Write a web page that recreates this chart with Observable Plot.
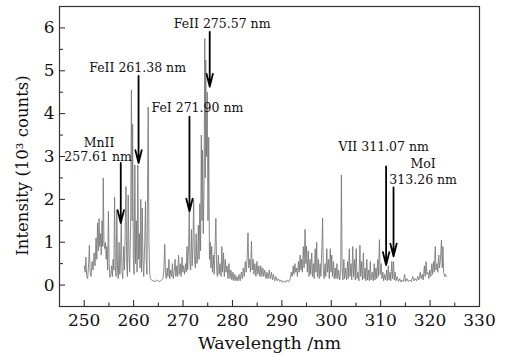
<!DOCTYPE html>
<html>
<head>
<meta charset="utf-8">
<script src="https://cdn.jsdelivr.net/npm/d3@7"></script>
<script src="https://cdn.jsdelivr.net/npm/@observablehq/plot@0.6"></script>
<style>
  html, body { margin: 0; padding: 0; background: #fff; }
  #chart svg { display: block; }
</style>
</head>
<body>
<div id="chart"></div>
<script>
// Spectrum (wavelength in nm, intensity in 10^3 counts)
const wavelength = [
  250.0,250.2,250.35,250.5,250.7,250.9,251.05,251.2,251.4,251.6,251.8,252.0,252.2,252.4,252.55,252.7,252.85,253.0,253.15,253.3,
  253.45,253.6,253.75,253.85,254.0,254.15,254.3,254.45,254.6,254.75,254.9,255.05,255.2,255.4,255.55,255.7,255.85,256.0,256.15,256.3,
  256.45,256.6,256.75,256.9,257.05,257.2,257.35,257.5,257.65,257.8,258.0,258.15,258.3,258.45,258.6,258.75,258.9,259.05,259.2,259.4,
  259.55,259.7,259.8,259.95,260.1,260.25,260.4,260.55,260.7,260.85,261.0,261.15,261.3,261.45,261.6,261.75,261.9,262.05,262.25,262.4,
  262.55,262.7,262.85,262.95,263.1,263.25,263.4,263.6,263.9,264.3,264.7,265.1,265.5,265.9,266.1,266.3,266.45,266.6,266.8,266.95,
  267.15,267.3,267.5,267.7,267.85,268.0,268.2,268.4,268.55,268.75,268.9,269.1,269.25,269.45,269.6,269.8,269.95,270.1,270.3,270.5,
  270.65,270.8,270.95,271.15,271.25,271.4,271.55,271.7,271.85,272.0,272.15,272.3,272.5,272.65,272.8,272.95,273.1,273.25,273.4,273.55,
  273.7,273.85,273.95,274.1,274.25,274.4,274.5,274.6,274.75,274.9,275.05,275.2,275.35,275.5,275.65,275.8,275.95,276.15,276.3,276.5,
  276.65,276.8,276.95,277.15,277.3,277.5,277.7,277.85,278.0,278.2,278.35,278.55,278.7,278.9,279.1,279.3,279.5,279.7,279.9,280.1,
  280.3,280.5,280.7,280.9,281.1,281.35,281.55,281.8,282.0,282.2,282.4,282.6,282.8,283.0,283.15,283.3,283.5,283.65,283.85,284.0,
  284.2,284.35,284.55,284.75,284.95,285.15,285.35,285.55,285.75,285.95,286.15,286.35,286.55,286.8,287.0,287.2,287.45,287.65,287.9,288.1,
  288.3,288.55,288.8,289.0,289.3,289.6,289.9,290.2,290.5,290.8,291.1,291.4,291.7,291.9,292.1,292.3,292.45,292.65,292.8,293.0,
  293.15,293.35,293.5,293.7,293.85,294.0,294.15,294.35,294.5,294.7,294.85,295.0,295.15,295.35,295.5,295.7,295.85,296.05,296.2,296.4,
  296.55,296.75,296.9,297.05,297.2,297.4,297.55,297.75,297.9,298.1,298.25,298.4,298.55,298.75,298.9,299.1,299.25,299.45,299.6,299.8,
  299.95,300.1,300.25,300.45,300.6,300.8,300.95,301.15,301.3,301.5,301.7,301.9,302.05,302.2,302.35,302.55,302.7,302.9,303.1,303.3,
  303.45,303.65,303.8,304.0,304.15,304.35,304.5,304.7,304.85,305.05,305.2,305.4,305.6,305.8,305.95,306.15,306.3,306.5,306.65,306.85,
  307.0,307.2,307.35,307.55,307.7,307.9,308.05,308.3,308.5,308.7,308.85,309.05,309.2,309.4,309.55,309.75,309.9,310.1,310.25,310.45,
  310.6,310.8,311.0,311.2,311.35,311.55,311.7,311.9,312.05,312.25,312.4,312.6,312.75,312.95,313.1,313.35,313.6,313.85,314.1,314.35,
  314.6,314.85,315.05,315.3,315.6,315.9,316.2,316.5,316.75,317.0,317.25,317.5,317.75,318.0,318.2,318.4,318.6,318.85,319.0,319.2,
  319.35,319.55,319.75,319.95,320.15,320.35,320.5,320.7,320.85,321.05,321.2,321.4,321.55,321.75,321.9,322.1,322.3,322.45,322.6,322.75,
  322.95,323.1,323.3
];
const intensity = [
  0.45,0.3,0.65,0.2,0.15,0.5,0.93,0.3,0.2,0.55,0.35,0.75,0.45,1.1,0.6,1.45,0.8,1.55,0.9,1.2,
  0.7,1.5,0.9,2.5,1.0,0.85,1.0,0.6,0.9,0.35,1.72,0.5,0.18,0.25,0.45,0.2,0.6,0.35,2.05,0.4,
  0.2,1.75,0.35,0.15,1.0,0.25,0.55,1.5,0.3,0.15,0.9,0.35,1.3,2.3,0.5,0.2,2.1,0.7,0.3,1.4,
  4.55,1.5,3.75,0.6,0.25,2.8,0.5,1.5,0.3,2.8,0.6,1.2,0.4,2.0,0.3,1.8,0.5,0.2,1.0,1.95,
  0.6,0.25,2.75,4.15,1.0,0.3,0.15,0.12,0.1,0.08,0.12,0.08,0.1,0.15,0.3,0.95,0.3,0.15,0.4,0.2,
  0.6,0.15,0.35,0.2,0.5,0.15,0.3,0.6,0.2,0.45,0.2,0.7,0.25,0.5,0.2,0.65,0.3,0.45,0.25,0.5,
  0.3,0.9,0.35,1.0,1.7,0.5,0.35,1.3,0.45,0.9,2.0,0.6,0.4,1.2,0.5,0.6,1.4,0.6,1.9,0.8,
  3.5,1.5,3.15,1.2,2.2,5.75,2.5,5.25,3.0,4.5,1.5,3.45,0.6,1.0,0.4,0.9,0.3,0.7,0.25,1.0,
  1.56,0.4,0.2,0.7,0.25,0.5,0.2,0.9,0.3,0.75,0.2,0.6,0.3,0.45,0.15,0.5,0.15,0.35,0.12,0.3,
  0.1,0.25,0.1,0.2,0.1,0.25,0.1,0.3,0.15,0.4,0.2,0.55,0.3,0.7,1.22,0.4,0.6,0.3,1.02,0.35,
  0.6,0.25,0.5,0.2,0.55,0.25,0.45,0.2,0.45,0.2,0.4,0.2,0.35,0.15,0.3,0.15,0.35,0.15,0.3,0.12,
  0.25,0.1,0.2,0.1,0.15,0.08,0.12,0.06,0.1,0.06,0.12,0.08,0.15,0.3,0.2,0.45,0.25,0.5,0.3,0.4,
  0.2,0.55,0.3,0.7,0.35,0.6,0.3,0.9,0.4,1.3,0.5,0.9,0.3,0.8,0.2,0.6,0.25,0.75,0.2,0.5,
  0.15,0.85,0.3,1.0,0.2,0.6,0.15,0.5,0.2,0.9,1.56,0.3,0.15,0.5,0.2,0.85,0.3,0.6,0.15,0.85,
  0.3,0.7,0.2,0.55,0.15,0.4,0.15,0.5,0.15,0.35,0.12,0.3,2.57,0.4,0.12,0.6,0.15,0.4,0.12,0.55,
  0.15,0.85,0.2,0.5,0.12,0.9,0.2,0.6,0.12,0.85,0.15,0.3,0.1,0.93,0.2,0.55,0.12,0.75,0.15,0.4,
  0.1,0.6,0.12,0.35,0.1,0.55,0.12,0.3,0.1,0.5,0.12,0.4,0.15,0.6,0.2,1.06,0.25,0.5,0.15,0.3,
  0.1,0.25,0.12,0.35,0.1,0.45,0.12,0.3,0.1,0.55,0.15,0.55,0.12,0.3,0.1,0.2,0.08,0.15,0.07,0.12,
  0.08,0.25,0.08,0.15,0.08,0.12,0.08,0.2,0.1,0.15,0.1,0.2,0.12,0.3,0.15,0.25,0.12,0.45,0.2,0.55,
  0.25,0.3,0.15,0.35,0.2,0.5,0.25,0.55,0.3,0.9,0.35,0.5,0.3,0.7,0.4,0.6,1.05,0.4,0.9,0.3,
  0.2,0.25,0.2
];

// Line annotations
const arrowX   = [257.4, 261.0, 271.3, 275.4, 311.1, 312.6];
const arrowTop = [2.85, 4.88, 3.93, 5.91, 2.77, 2.28];
const arrowTip = [1.45, 2.85, 1.72, 4.63, 0.47, 0.67];
const labelText = ["MnII", "257.61 nm", "FeII 261.38 nm", "FeI 271.90 nm", "FeII 275.57 nm", "VII 311.07 nm", "MoI", "313.26 nm"];
const labelX = [253.0, 252.8, 260.8, 272.9, 277.9, 310.6, 318.6, 318.6];
const labelY = [3.31, 2.99, 5.06, 4.13, 6.1, 3.23, 2.83, 2.46];

// Axis texts and ticks
const xLabel = "Wavelength /nm";
const yLabel = "Intensity (10³ counts)";
const xTicks = [250, 260, 270, 280, 290, 300, 310, 320, 330];
const xMinor = [255, 265, 275, 285, 295, 305, 315, 325];
const yTicks = [0, 1, 2, 3, 4, 5, 6];
const yMinor = [0.5, 1.5, 2.5, 3.5, 4.5, 5.5];

const spectrum = wavelength.map((x, i) => ({x, y: intensity[i]}));
const arrows = arrowX.map((x, i) => ({x, y1: arrowTop[i], y2: arrowTip[i]}));
const labels = labelText.map((t, i) => ({t, x: labelX[i], y: labelY[i]}));

const chart = Plot.plot({
  width: 514,
  height: 356,
  marginLeft: 59,
  marginRight: 35,
  marginTop: 6,
  marginBottom: 50,
  style: {fontFamily: "'DejaVu Serif', serif", fontSize: "13px", color: "#111", background: "#fff"},
  x: {domain: [245, 330]},
  y: {domain: [-0.5, 6.5]},
  marks: [
    Plot.line(spectrum, {x: "x", y: "y", stroke: "#767676", strokeWidth: 0.85}),
    Plot.arrow(arrows, {x1: "x", x2: "x", y1: "y1", y2: "y2", stroke: "#000", strokeWidth: 1.8, headLength: 11, headAngle: 28}),
    Plot.text(labels, {x: "x", y: "y", text: "t", fontSize: 12.5, fill: "#111"}),
    Plot.axisX(xTicks, {tickSize: -6, tickPadding: 13, fontSize: 17, stroke: "#222", label: null}),
    Plot.axisX(xMinor, {tickSize: -3.5, tickFormat: () => "", stroke: "#222", label: null}),
    Plot.axisY(yTicks, {tickSize: -6, tickPadding: 11, fontSize: 17, stroke: "#222", label: null}),
    Plot.axisY(yMinor, {tickSize: -4, tickFormat: () => "", stroke: "#222", label: null}),
    Plot.text([xLabel], {frameAnchor: "bottom", lineAnchor: "middle", dy: 37, fontSize: 17.5, fill: "#111"}),
    Plot.text([yLabel], {frameAnchor: "left", textAnchor: "middle", lineAnchor: "middle", rotate: -90, dx: -37, dy: 9, fontSize: 16.5, fill: "#111"}),
    Plot.frame({stroke: "#333", strokeWidth: 1.2})
  ]
});
document.getElementById("chart").append(chart);
</script>
</body>
</html>
